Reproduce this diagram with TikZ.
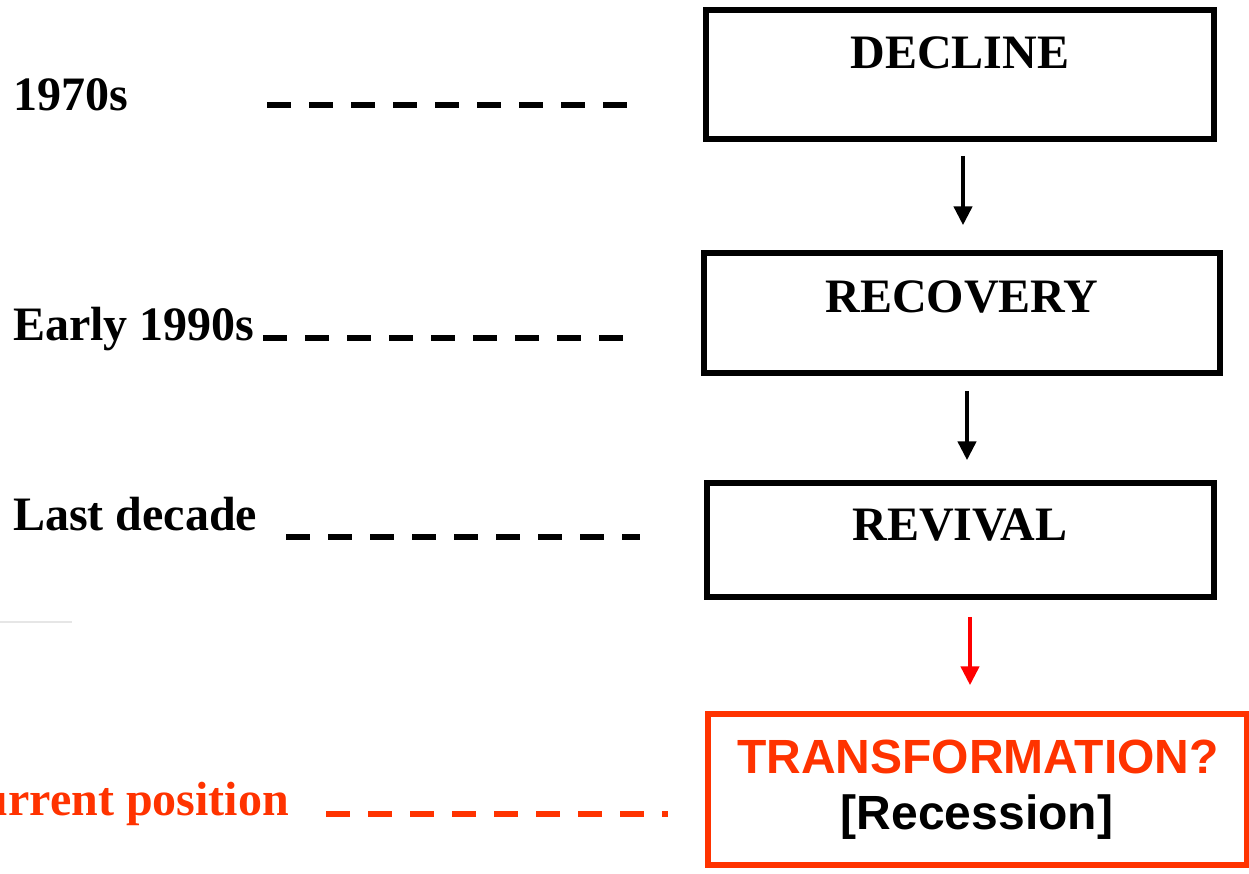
\documentclass[tikz,border=0pt]{standalone}
\usepackage{fontspec}
\setmainfont{Liberation Serif}
\newfontfamily\arialfont{Liberation Sans}
\usetikzlibrary{arrows.meta,calc}
\definecolor{orangered}{HTML}{FF3300}
\definecolor{faintgray}{HTML}{E6E6E6}
\tikzset{
  stagebox/.style={draw=black,line width=5.5pt,rectangle,inner sep=0pt},
  stagetext/.style={inner sep=0pt,anchor=base,font=\fontsize{48}{56}\selectfont\bfseries},
  eratext/.style={inner sep=0pt,anchor=base west,font=\fontsize{48}{56}\selectfont\bfseries},
  dashline/.style={line width=6pt,dash pattern=on 24pt off 18pt},
  flowarrow/.style={line width=4.5pt,-{Triangle[length=19pt,width=18pt]}},
}
\begin{document}
\begin{tikzpicture}[x=1pt,y=-1pt]
\clip (0,0) rectangle (1249,873);
\useasboundingbox (0,0) rectangle (1249,873);

% boxes
\node[stagebox,minimum width=508pt,minimum height=129pt] (decline) at (960,74.5) {};
\node[stagebox,minimum width=516pt,minimum height=120pt] (recovery) at (962,313) {};
\node[stagebox,minimum width=507pt,minimum height=114pt] (revival) at (960.5,540) {};
\node[stagebox,draw=orangered,minimum width=539pt,minimum height=151pt] (transf) at (977.5,789.5) {};

% box texts
\node[stagetext] (tdecline) at (960,68) {DECLINE};
\node[stagetext] (trecovery) at (962,312) {RECOVERY};
\node[stagetext] (trevival) at (960,540) {REVIVAL};
\node[stagetext,font=\fontsize{48}{56}\selectfont\arialfont\bfseries,text=orangered] (ttransf) at (978,773) {TRANSFORMATION?};
\node[stagetext,font=\fontsize{48}{56}\selectfont\arialfont\bfseries] (trec) at (977,829) {[Recession]};

% arrows
\draw[flowarrow] ($(decline.south)+(3,14)$) -- ($(recovery.north)+(1,-25)$);
\draw[flowarrow] ($(recovery.south)+(5,15)$) -- ($(revival.north)+(6.5,-20)$);
\draw[flowarrow,draw=red,fill=red] ($(revival.south)+(9.5,17)$) -- ($(transf.north)+(-7.5,-26)$);

% era labels
\node[eratext] (e1) at (13,110) {1970s};
\node[eratext] (e2) at (13,340) {Early 1990s};
\node[eratext] (e3) at (13,530) {Last decade};
\node[inner sep=0pt,anchor=base east,font=\fontsize{48}{56}\selectfont\bfseries,text=orangered] (e4) at (289,815) {Current position};

% dashed lines
\coordinate (d1a) at (267,105); \coordinate (d1b) at (627,105);
\coordinate (d2a) at (263,338); \coordinate (d2b) at (623,338);
\coordinate (d3a) at (286,537); \coordinate (d3b) at (640,537);
\coordinate (d4a) at (326,814); \coordinate (d4b) at (668,814);
\draw[dashline] (d1a) -- (d1b);
\draw[dashline] (d2a) -- (d2b);
\draw[dashline] (d3a) -- (d3b);
\draw[dashline,draw=orangered] (d4a) -- (d4b);

% faint line
\coordinate (fa) at (0,622); \coordinate (fb) at (72,622);
\draw[faintgray,line width=2pt] (fa) -- (fb);
\end{tikzpicture}
\end{document}
